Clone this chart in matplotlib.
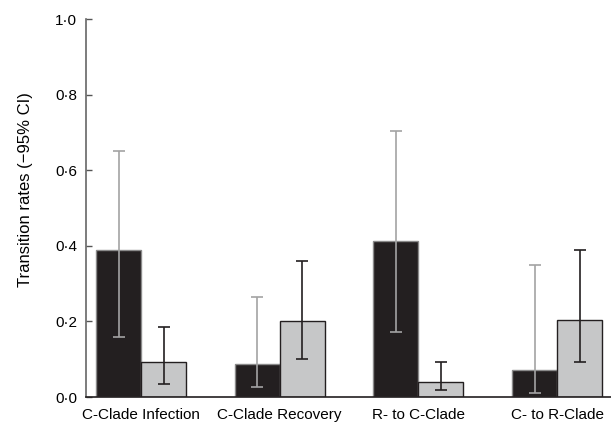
import numpy as np
import matplotlib
matplotlib.use('Agg')
import matplotlib.pyplot as plt

plt.rcParams['font.family'] = ['Liberation Sans', 'DejaVu Sans']

categories = ['C-Clade Infection', 'C-Clade Recovery', 'R- to C-Clade', 'C- to R-Clade']
black_vals = [0.390, 0.088, 0.412, 0.071]
black_lo = [0.160, 0.026, 0.172, 0.010]
black_hi = [0.651, 0.265, 0.705, 0.350]
grey_vals = [0.093, 0.201, 0.041, 0.204]
grey_lo = [0.034, 0.100, 0.019, 0.093]
grey_hi = [0.186, 0.361, 0.093, 0.389]
yticks = [0.0, 0.2, 0.4, 0.6, 0.8, 1.0]

x = np.arange(len(categories))
w = 0.325

fig = plt.figure(figsize=(6.11, 4.30), dpi=100)
ax = fig.add_axes([0.1408, 0.0767, 0.8592, 0.8791])

bv = np.array(black_vals)
gv = np.array(grey_vals)
b_err = [bv - np.array(black_lo), np.array(black_hi) - bv]
g_err = [gv - np.array(grey_lo), np.array(grey_hi) - gv]

ax.bar(x - w / 2, bv, w, color='#231f20', edgecolor='#8a8a8a', linewidth=1.0, zorder=2)
ax.bar(x + w / 2, gv, w, color='#c6c7c8', edgecolor='#231f20', linewidth=1.0, zorder=2)
ax.errorbar(x - w / 2, bv, yerr=b_err, fmt='none', ecolor='#a3a3a3', elinewidth=1.2,
            capsize=4, capthick=1.2, zorder=3)
ax.errorbar(x + w / 2, gv, yerr=g_err, fmt='none', ecolor='#231f20', elinewidth=1.2,
            capsize=4, capthick=1.2, zorder=3)

ax.set_xlim(-0.397, 3.389)
ax.set_ylim(0, 1.0)
ax.set_yticks(yticks)
ax.set_yticklabels([f'{t:.1f}'.replace('.', '\u00b7') for t in yticks], fontsize=11)
ax.set_xticks(x)
ax.set_xticklabels(categories, fontsize=11)
ax.tick_params(axis='x', length=0, pad=8)
ax.tick_params(axis='y', direction='in', length=4, width=1, color='#555555', pad=6.5)
ax.set_ylabel('Transition rates (\u221295% CI)', fontsize=12)
ax.yaxis.set_label_coords(-0.101, 0.55)

for s in ['top', 'right']:
    ax.spines[s].set_visible(False)
ax.spines['left'].set_color('#666666')
ax.spines['left'].set_linewidth(1.2)
ax.spines['bottom'].set_color('#231f20')
ax.spines['bottom'].set_linewidth(1.2)

fig.savefig('out.png', dpi=100)
